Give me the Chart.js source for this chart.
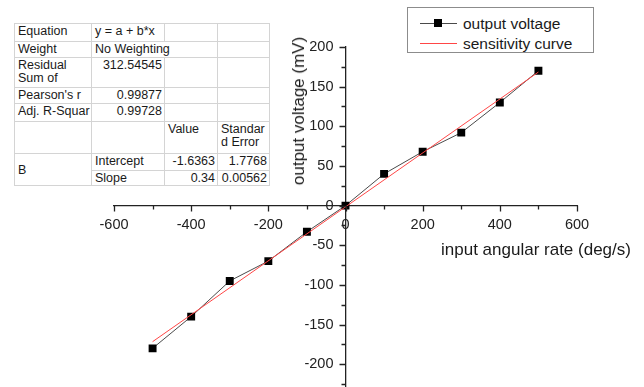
<!DOCTYPE html>
<html>
<head>
<meta charset="utf-8">
<script src="https://cdn.jsdelivr.net/npm/chart.js@4.4.1/dist/chart.umd.min.js"></script>
<style>
  html, body { margin: 0; padding: 0; background: #fff; overflow: hidden; }
  body { width: 644px; height: 387px; position: relative; font-family: "Liberation Sans", Arial, sans-serif; color: #1a1a1a; }
  #wrap { position: absolute; left: 0; top: 0; width: 644px; height: 387px; overflow: hidden; }
  #fitTable { position: absolute; left: 14px; top: 23px; border-collapse: collapse; table-layout: fixed; font-size: 12.5px; line-height: 13px; background: #fff; border: 1px solid #a0a0a0; }
  #fitTable td { border: 1px solid #d4d4d4; padding: 1px 2px 0 3px; vertical-align: top; white-space: nowrap; overflow: hidden; }
  #fitTable td.num { text-align: right; }
  #fitTable td.mid { vertical-align: middle; }
  #legend { position: absolute; left: 407px; top: 7px; width: 185px; height: 44px; border: 1px solid #8c8c8c; background: #fff; font-size: 15.5px; }
  .lg-row { position: absolute; left: 0; height: 20px; width: 185px; }
  .lg-line { position: absolute; left: 12px; width: 37px; top: 9px; height: 1px; }
  .lg-mark { position: absolute; left: 26px; top: 5px; width: 8px; height: 8px; background: #000; }
  .lg-text { position: absolute; left: 55px; top: 0; line-height: 19px; white-space: nowrap; }
  .ax-title { position: absolute; font-size: 17px; white-space: nowrap; color: #1a1a1a; }
</style>
</head>
<body>
<div id="wrap"><canvas id="chart" width="644" height="392"></canvas></div>
<table id="fitTable"></table>
<div id="legend"></div>
<div class="ax-title" id="xTitle" style="left:441px; top:240px;">input angular rate (deg/s)</div>
<div class="ax-title" id="yTitle" style="left:299px; top:111px; transform: translate(-50%, -50%) rotate(-90deg);">output voltage (mV)</div>
<script>
// measured points
const rateX = [-500, -400, -300, -200, -100, 0, 100, 200, 300, 400, 500];
const outputMv = [-180, -140, -95, -70, -33, 0, 40, 68, 92, 130, 170];

// linear fit line end points (y = -1.6363 + 0.34x)
const fitX = [-500, 500];
const fitMv = [-171.6, 168.4];

const seriesNames = ['output voltage', 'sensitivity curve'];
const seriesColors = ['#4a4a4a', '#ff4646'];

const xTickValues = [-600, -500, -400, -300, -200, -100, 0, 100, 200, 300, 400, 500, 600];
const xLabelValues = [-600, -400, -200, 0, 200, 400, 600];
const yTickValues = [-225, -200, -175, -150, -125, -100, -75, -50, -25, 0, 25, 50, 75, 100, 125, 150, 175, 200];
const yLabelValues = [-200, -150, -100, -50, 0, 50, 100, 150, 200];

// fit report table rows
const tableRows = [
  [['Equation'], ['y = a + b*x'], [''], ['']],
  [['Weight'], ['No Weighting', 2], ['']],
  [['Residual<br>Sum of'], ['312.54545', 1, 'num'], [''], ['']],
  [["Pearson's r"], ['0.99877', 1, 'num'], [''], ['']],
  [['Adj. R-Squar'], ['0.99728', 1, 'num'], [''], ['']],
  [[''], [''], ['Value'], ['Standar<br>d Error']],
  [['B', 1, 'mid', 2], ['Intercept'], ['-1.6363', 1, 'num'], ['1.7768', 1, 'num']],
  [['Slope'], ['0.34', 1, 'num'], ['0.00562', 1, 'num']]
];
const colWidths = [77, 73, 53, 52];
const rowHeights = [18, 16, 30, 16, 18, 32, 17, 15];

function buildTable() {
  const t = document.getElementById('fitTable');
  let html = '<colgroup>' + colWidths.map(w => `<col style="width:${w}px">`).join('') + '</colgroup>';
  tableRows.forEach((row, i) => {
    html += `<tr style="height:${rowHeights[i]}px">`;
    row.forEach(([txt, span, cls, rspan]) => {
      html += `<td${span > 1 ? ` colspan="${span}"` : ''}${rspan ? ` rowspan="${rspan}"` : ''}${cls ? ` class="${cls}"` : ''}>${txt}</td>`;
    });
    html += '</tr>';
  });
  t.innerHTML = html;
  t.style.width = colWidths.reduce((a, b) => a + b, 0) + 'px';
}

function buildLegend() {
  const lg = document.getElementById('legend');
  lg.innerHTML = seriesNames.map((name, i) => `
    <div class="lg-row" style="top:${6 + i * 20}px">
      <div class="lg-line" style="background:${seriesColors[i]}"></div>
      ${i === 0 ? '<div class="lg-mark"></div>' : ''}
      <div class="lg-text">${name}</div>
    </div>`).join('');
}

// ticks + tick labels drawn at the crossing axes
const axisTicks = {
  id: 'axisTicks',
  afterDraw(chart) {
    const { ctx, scales: { x, y } } = chart;
    const x0 = x.getPixelForValue(0);
    const y0 = y.getPixelForValue(0);
    ctx.save();
    ctx.strokeStyle = '#222';
    ctx.lineWidth = 1.3;
    ctx.beginPath();
    xTickValues.forEach(v => {
      const px = Math.round(x.getPixelForValue(v)) + 0.5;
      const len = xLabelValues.includes(v) ? 6 : 4;
      ctx.moveTo(px, y0);
      ctx.lineTo(px, y0 + len);
    });
    yTickValues.forEach(v => {
      const py = Math.round(y.getPixelForValue(v)) + 0.5;
      const len = yLabelValues.includes(v) ? 6 : 4;
      ctx.moveTo(x0, py);
      ctx.lineTo(x0 - len, py);
    });
    ctx.stroke();

    ctx.fillStyle = '#222';
    ctx.font = '14.5px "Liberation Sans", Arial, sans-serif';
    ctx.textBaseline = 'middle';
    ctx.textAlign = 'center';
    xLabelValues.forEach(v => ctx.fillText(String(v), x.getPixelForValue(v), y0 + 19));
    ctx.textAlign = 'right';
    yLabelValues.forEach(v => ctx.fillText(String(v), x0 - 12, y.getPixelForValue(v)));
    ctx.restore();
  }
};

buildTable();
buildLegend();

new Chart(document.getElementById('chart'), {
  type: 'scatter',
  data: {
    datasets: [
      {
        label: seriesNames[1],
        data: fitX.map((v, i) => ({ x: v, y: fitMv[i] })),
        showLine: true,
        borderColor: seriesColors[1],
        borderWidth: 1,
        pointRadius: 0,
        order: 0
      },
      {
        label: seriesNames[0],
        data: rateX.map((v, i) => ({ x: v, y: outputMv[i] })),
        showLine: true,
        borderColor: seriesColors[0],
        borderWidth: 1,
        pointStyle: 'rect',
        pointRadius: 5.6,
        pointBackgroundColor: '#000',
        pointBorderColor: '#000',
        pointBorderWidth: 0,
        order: 1
      }
    ]
  },
  options: {
    responsive: false,
    animation: false,
    layout: { padding: { left: 114, right: 67, top: 47, bottom: 0 } },
    plugins: { legend: { display: false }, tooltip: { enabled: false } },
    scales: {
      x: {
        type: 'linear',
        min: -600, max: 600,
        position: { y: 0 },
        grid: { drawOnChartArea: false, drawTicks: false },
        border: { color: '#222', width: 1.3 },
        ticks: { display: false }
      },
      y: {
        type: 'linear',
        min: -228, max: 200,
        position: { x: 0 },
        grid: { drawOnChartArea: false, drawTicks: false },
        border: { color: '#222', width: 1.3 },
        ticks: { display: false }
      }
    }
  },
  plugins: [axisTicks]
});
</script>
</body>
</html>
